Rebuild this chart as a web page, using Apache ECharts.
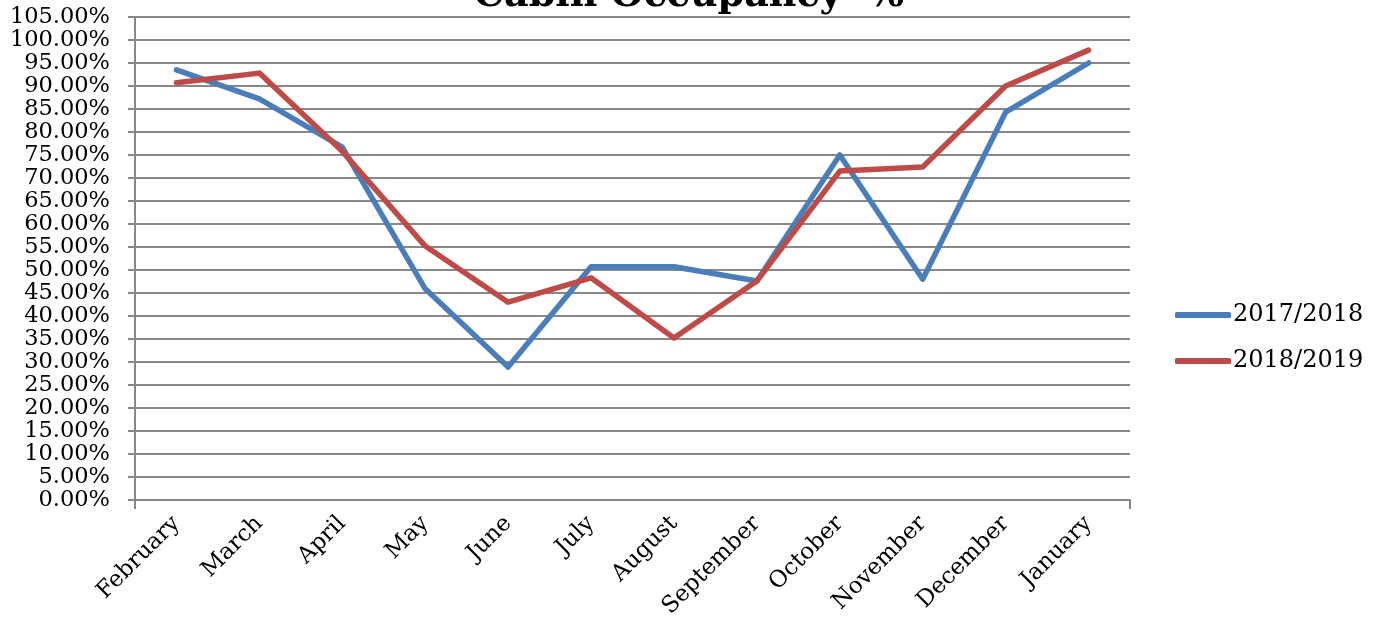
<!DOCTYPE html>
<html>
<head>
<meta charset="utf-8">
<script src="https://cdn.jsdelivr.net/npm/echarts@6/dist/echarts.min.js"></script>
<style>
  html, body { margin: 0; padding: 0; background: #fff; }
  #chart { width: 1378px; height: 625px; }
</style>
</head>
<body>
<div id="chart"></div>
<script>
// Monthly cabin occupancy, fiscal year running February to January
const months = ['February', 'March', 'April', 'May', 'June', 'July', 'August',
                'September', 'October', 'November', 'December', 'January'];
const season2017 = [93.5, 87.2, 76.7, 45.9, 28.9, 50.7, 50.7, 47.6, 75.0, 48.0, 84.3, 95.0];
const season2018 = [90.7, 92.8, 75.8, 55.2, 43.0, 48.3, 35.2, 47.6, 71.5, 72.4, 90.0, 97.8];
const seriesNames = ['2017/2018', '2018/2019'];

const serif = 'DejaVu Serif';
const gridGray = '#888888';

const chart = echarts.init(document.getElementById('chart'), null, { renderer: 'canvas' });

chart.setOption({
  backgroundColor: '#ffffff',
  animation: false,
  title: {
    text: 'Cabin Occupancy  %',
    left: 'center',
    top: -28,
    textStyle: { fontFamily: serif, fontWeight: 'bold', fontSize: 38, color: '#000' }
  },
  legend: {
    orient: 'vertical',
    left: 1170,
    top: 298,
    itemWidth: 56,
    itemHeight: 6,
    itemGap: 22,
    icon: 'roundRect',
    textStyle: { fontFamily: serif, fontSize: 24, color: '#000', padding: [0, 0, 0, -3] },
    data: seriesNames
  },
  grid: { left: 135, right: 248, top: 17, bottom: 125, containLabel: false },
  xAxis: {
    type: 'category',
    data: months,
    boundaryGap: true,
    axisLine: { lineStyle: { color: gridGray, width: 2 } },
    axisTick: { show: true, length: 9, interval: (i) => i === 0, lineStyle: { color: gridGray, width: 2 } },
    axisLabel: { rotate: 45, margin: 20, fontFamily: serif, fontSize: 23, color: '#000', interval: 0 }
  },
  yAxis: {
    type: 'value',
    min: 0,
    max: 105,
    interval: 5,
    axisLine: { show: true, lineStyle: { color: gridGray, width: 2 } },
    axisTick: { show: true, length: 7, lineStyle: { color: gridGray, width: 2 } },
    splitLine: { show: true, lineStyle: { color: gridGray, width: 2 } },
    axisLabel: {
      margin: 25,
      fontFamily: serif,
      fontSize: 22.5,
      color: '#000',
      formatter: (v) => v.toFixed(2) + '%'
    }
  },
  series: [
    {
      name: seriesNames[0],
      type: 'line',
      data: season2017,
      symbol: 'none',
      color: '#4a7ebb',
      lineStyle: { width: 5.5, color: '#4a7ebb', cap: 'round', join: 'round' }
    },
    {
      name: seriesNames[1],
      type: 'line',
      data: season2018,
      symbol: 'none',
      color: '#be4b48',
      lineStyle: { width: 5.5, color: '#be4b48', cap: 'round', join: 'round' }
    }
  ]
});
</script>
</body>
</html>
